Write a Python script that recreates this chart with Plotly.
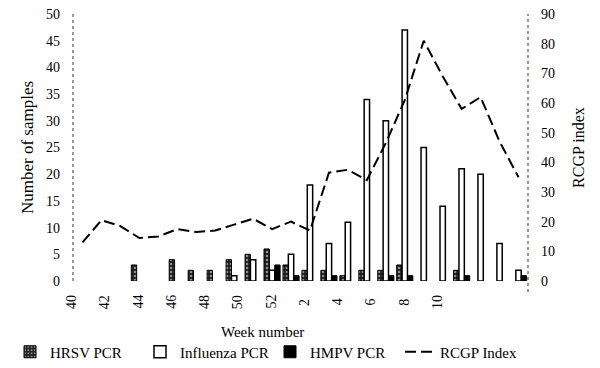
import plotly.graph_objects as go

# ---- data ----
weeks = [40, 41, 42, 43, 44, 45, 46, 47, 48, 49, 50, 51, 52,
         1, 2, 3, 4, 5, 6, 7, 8, 9, 10, 11]
week_tick_labels = ["40", "42", "44", "46", "48", "50", "52", "2", "4", "6", "8", "10"]
hrsv_pcr = [0, 0, 0, 3, 0, 4, 2, 2, 4, 5, 6, 3, 2, 2, 1, 2, 2, 3, 0, 0, 2, 0, 0, 0]
influenza_pcr = [0, 0, 0, 0, 0, 0, 0, 0, 1, 4, 2, 5, 18, 7, 11, 34, 30, 47, 25, 14, 21, 20, 7, 2]
hmpv_pcr = [0, 0, 0, 0, 0, 0, 0, 0, 0, 0, 3, 1, 0, 1, 0, 0, 1, 1, 0, 0, 1, 0, 0, 1]
rcgp_index = [13, 20.5, 18.5, 14.5, 15, 17.5, 16.5, 17, 19, 21, 17.5, 20, 17,
              36.5, 37.5, 34, 46.5, 61, 81, 69, 58, 62, 47, 35]

# ---- layout constants (page body has an 8px margin) ----
OFF = 8
W, H = 600 - OFF, 368 - OFF
PLOT_X0, PLOT_X1, PLOT_Y0, PLOT_Y1 = 73, 528, 14, 281   # in window pixels
L, T = PLOT_X0 - OFF, PLOT_Y0 - OFF
R, B = W - (PLOT_X1 - OFF), H - (PLOT_Y1 - OFF)
PW, PH = PLOT_X1 - PLOT_X0, PLOT_Y1 - PLOT_Y0
SERIF = "Liberation Serif, Times New Roman, serif"


def px_to_paper_x(px):
    return (px - PLOT_X0) / PW


def px_to_paper_y(py):
    return (PLOT_Y1 - py) / PH


def nz(vals):
    return [v if v else None for v in vals]


x_idx = list(range(len(weeks)))

fig = go.Figure()
fig.add_bar(
    x=x_idx, y=nz(hrsv_pcr), name="HRSV PCR",
    marker=dict(color="#1c1c1c", line=dict(color="black", width=1),
                pattern=dict(shape=".", fgcolor="white", size=4, solidity=0.35,
                             fillmode="overlay")),
)
fig.add_bar(
    x=x_idx, y=nz(influenza_pcr), name="Influenza PCR",
    marker=dict(color="white", line=dict(color="black", width=1.5)),
)
fig.add_bar(
    x=x_idx, y=nz(hmpv_pcr), name="HMPV PCR",
    marker=dict(color="black", line=dict(color="black", width=1)),
)
fig.add_scatter(
    x=x_idx, y=rcgp_index, name="RCGP Index", mode="lines", yaxis="y2",
    line=dict(color="black", width=2, dash="11px,5px"),
)

# x tick labels (rotated), evenly spaced as in the reference
label_step_px = 33.27
annotations = []
for k, lab in enumerate(week_tick_labels):
    px = 71 + label_step_px * k
    annotations.append(dict(
        text=lab, xref="paper", yref="paper",
        x=px_to_paper_x(px), y=px_to_paper_y(302),
        xanchor="center", yanchor="middle", textangle=-90, showarrow=False,
        font=dict(family=SERIF, size=14, color="black"),
    ))
annotations.append(dict(
    text="Week number", xref="paper", yref="paper",
    x=px_to_paper_x(262), y=px_to_paper_y(332), xanchor="center", yanchor="middle",
    showarrow=False, font=dict(family=SERIF, size=15, color="black"),
))

fig.update_layout(
    template="none",
    width=W, height=H, autosize=False,
    margin=dict(l=L, r=R, t=T, b=B, pad=0, autoexpand=False),
    paper_bgcolor="white", plot_bgcolor="white",
    barmode="group", bargap=0.15, bargroupgap=0,
    font=dict(family=SERIF, size=14, color="black"),
    xaxis=dict(range=[-0.5, len(weeks) - 0.5], showticklabels=False, ticks="",
               showgrid=False, zeroline=False, showline=False, automargin=False),
    yaxis=dict(range=[0, 50], dtick=5, ticks="", showgrid=False, zeroline=False,
               showline=False, ticklabelstandoff=12, automargin=False,
               ticklabeloverflow="allow",
               tickfont=dict(family=SERIF, size=14),
               title=dict(text="Number of samples", standoff=8,
                          font=dict(family=SERIF, size=17))),
    yaxis2=dict(range=[0, 90], dtick=10, overlaying="y", side="right", ticks="",
                showgrid=False, zeroline=False, showline=False, automargin=False,
                ticklabeloverflow="allow",
                ticklabelstandoff=12, tickfont=dict(family=SERIF, size=14),
                title=dict(text="RCGP index", standoff=18,
                           font=dict(family=SERIF, size=16))),
    legend=dict(orientation="h", xref="paper", yref="paper",
                x=px_to_paper_x(10), y=px_to_paper_y(352),
                xanchor="left", yanchor="middle",
                font=dict(family=SERIF, size=15), itemwidth=30,
                entrywidth=85, entrywidthmode="pixels",
                tracegroupgap=0, bgcolor="rgba(0,0,0,0)"),
    annotations=annotations,
    shapes=[
        dict(type="line", xref="paper", yref="paper", x0=0, x1=0, y0=0, y1=1,
             line=dict(color="#333", width=1, dash="dot")),
        dict(type="line", xref="paper", yref="paper", x0=1, x1=1,
             y0=px_to_paper_y(292), y1=1,
             line=dict(color="#333", width=1, dash="dot")),
    ],
)

fig.write_html("out.html")
